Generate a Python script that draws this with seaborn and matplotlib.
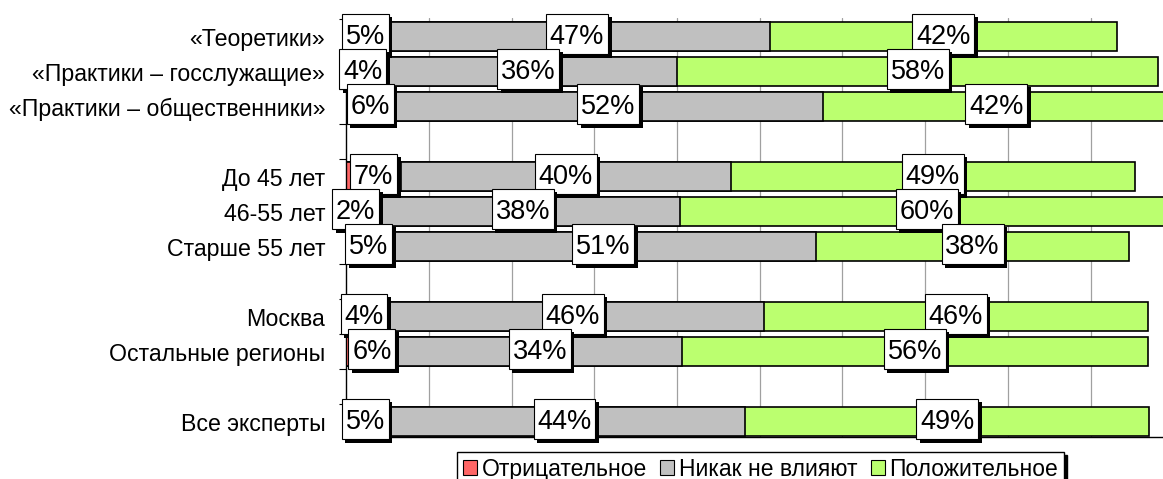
import numpy as np
import pandas as pd
import matplotlib.pyplot as plt
import matplotlib.patheffects as pe
from matplotlib.patches import Patch
from matplotlib.path import Path
import seaborn as sns

# data (percent of experts, labels are rounded)
groups = ['«Теоретики»', '«Практики – госслужащие»', '«Практики – общественники»',
          'До 45 лет', '46-55 лет', 'Старше 55 лет',
          'Москва', 'Остальные регионы', 'Все эксперты']
negative = [4.6, 4.0, 5.8, 6.6, 2.3, 5.4, 4.3, 6.2, 4.6]
neutral = [46.6, 36.0, 51.8, 39.9, 38.1, 51.4, 46.2, 34.4, 43.6]
positive = [42.0, 58.2, 42.0, 48.9, 59.6, 37.9, 46.4, 56.3, 48.9]
series_names = ['Отрицательное', 'Никак не влияют', 'Положительное']
series_colors = ['#FF6666', '#C0C0C0', '#BBFF6F']

# layout: row slots, with empty slots between the blocks
rows = [0, 1, 2, 4, 5, 6, 8, 9, 11]

df = pd.DataFrame({'group': groups, 'row': rows,
                   'neg': negative, 'neu': neutral, 'pos': positive})
df['neg_neu'] = df['neg'] + df['neu']
df['total'] = df['neg_neu'] + df['pos']


def label_box(x0, y0, width, height, mutation_size):
    # square box, a bit taller on top so the digits sit in the middle
    px, pt, pb = 0.14 * mutation_size, 0.37 * mutation_size, 0.17 * mutation_size
    x1, y1 = x0 + width + px, y0 + height + pt
    x0, y0 = x0 - px, y0 - pb
    return Path([(x0, y0), (x1, y0), (x1, y1), (x0, y1), (x0, y0)], closed=True)


sns.set_theme(style='white')
plt.rcParams['font.family'] = ['Liberation Sans', 'DejaVu Sans']
plt.rcParams['text.color'] = 'black'
plt.rcParams['ytick.labelcolor'] = 'black'

fig = plt.figure(figsize=(11.63, 4.79), dpi=100)
x0 = 346.2
px_per_pct = 8.27
ax = fig.add_axes([x0 / 1163, 42 / 479, 1 - x0 / 1163, 419 / 479])

# stacked bars drawn as cumulative overlays, widest first
for col, color in zip(['total', 'neg_neu', 'neg'], series_colors[::-1]):
    sns.barplot(data=df, x=col, y='row', orient='h', native_scale=True,
                width=0.83, color=color, saturation=1, errorbar=None,
                edgecolor='black', linewidth=1.2, ax=ax, zorder=2)

ax.set_xlim(0, (1163 - x0) / px_per_pct)
ax.set_ylim(11.44, -0.53)
ax.set_xticks(np.arange(10, 100, 10))
ax.set_xticklabels([])
ax.tick_params(axis='x', length=0)
ax.grid(axis='x', color='#A0A0A0', linewidth=0.9, zorder=0)
ax.grid(axis='y', visible=False)
ax.set_axisbelow(True)

ax.set_yticks(rows)
ax.set_yticklabels(groups, fontsize=16.7, color='black')
ax.tick_params(axis='y', which='major', length=0, pad=15)
ax.set_yticks(np.arange(-0.5, 11, 1), minor=True)
ax.tick_params(axis='y', which='minor', left=True, length=5, width=0.8, color='black', direction='out')
ax.set_xlabel('')
ax.set_ylabel('')

for side in ['top', 'right']:
    ax.spines[side].set_visible(False)
for side in ['left', 'bottom']:
    ax.spines[side].set_color('black')
    ax.spines[side].set_linewidth(1.0)

# value labels in white boxes with a hard shadow
for _, r in df.iterrows():
    for start, val in [(0, r['neg']), (r['neg'], r['neu']), (r['neg_neu'], r['pos'])]:
        t = ax.text(start + val / 2, r['row'], f'{val:.0f}%', ha='center', va='center',
                    fontsize=19.5, color='black', zorder=5,
                    bbox=dict(boxstyle=label_box, fc='white', ec='black', lw=0.8))
        t.get_bbox_patch().set_path_effects([
            pe.SimplePatchShadow(offset=(2.6, -2.6), shadow_rgbFace='black', alpha=1),
            pe.Normal()])

handles = [Patch(facecolor=c, edgecolor='black', linewidth=0.8, label=n)
           for c, n in zip(series_colors, series_names)]
fig.legend(handles=handles, loc='upper center', bbox_to_anchor=(0.654, 0.0564), ncol=3,
           frameon=True, fancybox=False, edgecolor='black', framealpha=1,
           shadow={'color': 'black', 'alpha': 1}, fontsize=16.5, labelcolor='black',
           handlelength=0.6, handleheight=0.6, handletextpad=0.2,
           columnspacing=0.6, borderpad=0.25, borderaxespad=0)

fig.savefig('out.png', dpi=100)
